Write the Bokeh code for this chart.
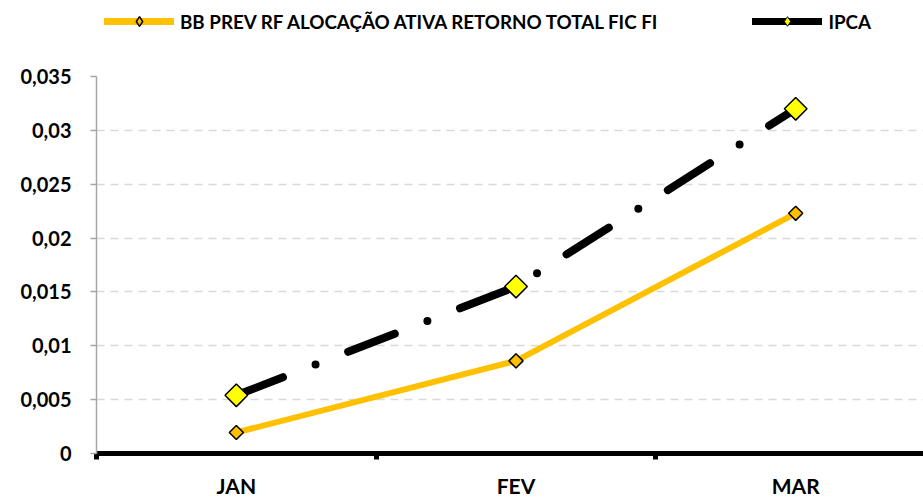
import math
from bokeh.plotting import figure
from bokeh.layouts import column
from bokeh.models import (FixedTicker, CustomJSTickFormatter, Legend, LegendItem, Range1d)
from bokeh.embed import file_html
from bokeh.resources import INLINE

months = ["JAN", "FEV", "MAR"]
bb_values = [0.00195, 0.0086, 0.0223]
ipca_values = [0.0054, 0.0155, 0.0320]
y_ticks = [0, 0.005, 0.01, 0.015, 0.02, 0.025, 0.03, 0.035]
bb_label = "BB PREV RF ALOCAÇÃO ATIVA RETORNO TOTAL FIC FI"
ipca_label = "IPCA"

xs = list(range(len(months)))
FONT = "Lato"
BB_COLOR = "#FFC000"
IPCA_FILL = "#FFFF00"

p = figure(frame_width=827, frame_height=377, output_backend="svg", toolbar_location=None,
           x_range=Range1d(-0.5, 2.457), y_range=Range1d(0, 0.035),
           min_border_left=96, min_border_right=0, min_border_top=36,
           min_border_bottom=0)
p.outline_line_color = None
p.background_fill_color = "white"

# axes
xa = p.xaxis[0]
xa.ticker = FixedTicker(ticks=xs, minor_ticks=[-0.5, 0.5, 1.5, 2.5])
xa.major_label_overrides = {i: m for i, m in enumerate(months)}
xa.major_tick_out = 0
xa.major_tick_in = 0
xa.minor_tick_out = 6
xa.minor_tick_in = 0
xa.minor_tick_line_width = 5
xa.minor_tick_line_color = "black"
xa.axis_line_width = 5
xa.axis_line_color = "black"
xa.major_label_standoff = 13
xa.major_label_text_font = FONT
xa.major_label_text_font_style = "bold"
xa.major_label_text_font_size = "21px"
xa.major_label_text_color = "black"

ya = p.yaxis[0]
ya.ticker = FixedTicker(ticks=y_ticks)
ya.formatter = CustomJSTickFormatter(code="return tick.toString().replace('.', ',');")
ya.axis_line_color = "#A6A6A6"
ya.axis_line_width = 1.5
ya.major_tick_out = 6
ya.major_tick_in = 0
ya.major_tick_line_color = "#A6A6A6"
ya.major_tick_line_width = 1.5
ya.minor_tick_out = 0
ya.minor_tick_in = 0
ya.major_label_standoff = 19
ya.major_label_text_font = FONT
ya.major_label_text_font_style = "bold"
ya.major_label_text_font_size = "20px"
ya.major_label_text_color = "black"

p.xgrid.visible = False
p.ygrid.grid_line_color = "#D9D9D9"
p.ygrid.grid_line_width = 1.5
p.ygrid.grid_line_dash = "8 6"

# series
p.line(xs, bb_values, line_color=BB_COLOR, line_width=6, line_cap="round", line_join="round")
p.line(xs, ipca_values, line_color="black", line_width=8, line_dash="50 35 0 35",
       line_cap="round", line_join="round")
p.scatter(xs, bb_values, marker="square", angle=math.pi / 4, size=10,
          fill_color=BB_COLOR, line_color="black", line_width=1.5)
p.scatter(xs, ipca_values, marker="square", angle=math.pi / 4, size=16,
          fill_color=IPCA_FILL, line_color="black", line_width=1.5)

# legend strip (separate small figure so the legend is not clipped);
# its sample glyphs sit outside the strip's visible range
lf = figure(width=923, height=40, output_backend="svg", toolbar_location=None,
            x_range=Range1d(0, 1), y_range=Range1d(0, 1),
            min_border=0)
lf.axis.visible = False
lf.grid.visible = False
lf.outline_line_color = None
off_x = [10, 11]
off_y = [10, 10]
lg_bb_l = lf.line(off_x, off_y, line_color=BB_COLOR, line_width=7, line_cap="round")
lg_bb_m = lf.scatter(off_x[:1], off_y[:1], marker="diamond", size=10,
                     fill_color=BB_COLOR, line_color="black", line_width=1.5)
lg_ip_l = lf.line(off_x, off_y, line_color="black", line_width=7, line_cap="round")
lg_ip_m = lf.scatter(off_x[:1], off_y[:1], marker="diamond", size=10,
                     fill_color=IPCA_FILL, line_color="black", line_width=1)

legend = Legend(items=[LegendItem(label=bb_label, renderers=[lg_bb_l, lg_bb_m]),
                       LegendItem(label=ipca_label, renderers=[lg_ip_l, lg_ip_m])],
                orientation="horizontal", glyph_width=70, glyph_height=24,
                label_standoff=6, spacing=95, padding=0, margin=0,
                border_line_color=None, background_fill_alpha=0,
                label_text_font=FONT, label_text_font_style="bold",
                label_text_font_size="18.8px", label_text_color="black",
                location=(8, 7))
lf.add_layout(legend, "center")

layout = column(lf, p, spacing=0)
open("out.html", "w").write(file_html(layout, INLINE))
